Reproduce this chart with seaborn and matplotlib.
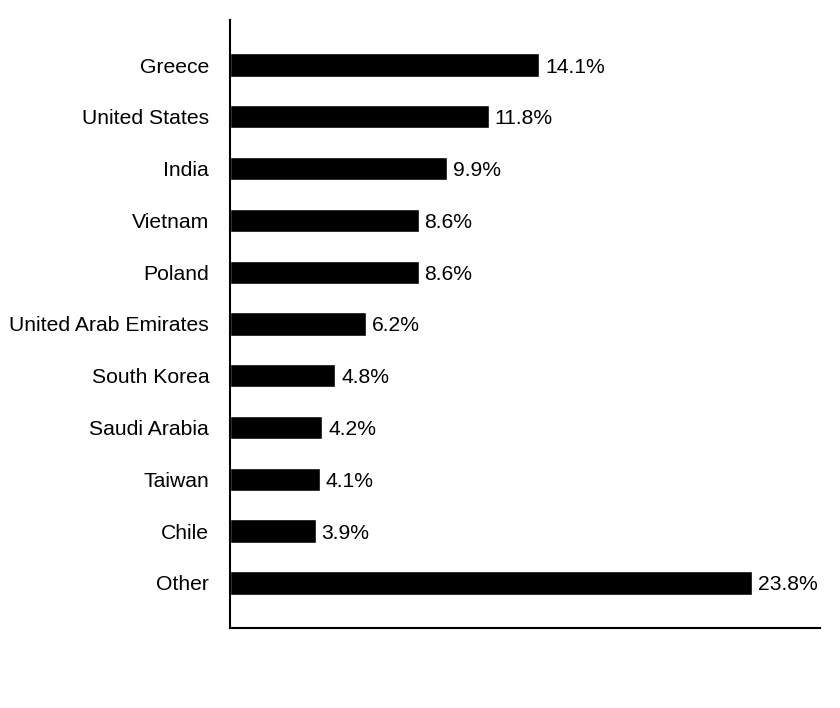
import numpy as np
import pandas as pd
import seaborn as sns
from matplotlib import pyplot as plt

# Country shares (percent)
countries = ['Greece', 'United States', 'India', 'Vietnam', 'Poland',
             'United Arab Emirates', 'South Korea', 'Saudi Arabia', 'Taiwan',
             'Chile', 'Other']
shares = [14.1, 11.8, 9.9, 8.6, 8.6, 6.2, 4.8, 4.2, 4.1, 3.9, 23.8]
value_labels = ['14.1%', '11.8%', '9.9%', '8.6%', '8.6%', '6.2%', '4.8%',
                '4.2%', '4.1%', '3.9%', '23.8%']

df = pd.DataFrame({'Country': countries, 'Share': shares})

sns.set_style('white')
plt.rcParams['font.family'] = ['Liberation Sans', 'DejaVu Sans']

fig = plt.figure(figsize=(8.4, 7.08), dpi=100)
ax = fig.add_axes([0.2738, 0.113, 0.7024, 0.8588])

sns.barplot(data=df, x='Share', y='Country', color='black', width=0.45,
            orient='h', ax=ax, saturation=1)

for i, (v, lab) in enumerate(zip(shares, value_labels)):
    ax.text(v + 0.27, i, lab, va='center_baseline', ha='left', fontsize=15.2,
            color='black')

ax.set_xlim(0, 26.9)
ax.set_ylim(10.87, -0.87)
ax.set_xlabel('')
ax.set_ylabel('')
ax.set_xticks([])
ax.tick_params(axis='y', length=0, pad=15, labelsize=15.2, labelcolor='black')
for lab in ax.get_yticklabels():
    lab.set_verticalalignment('center_baseline')
for s in ['top', 'right']:
    ax.spines[s].set_visible(False)
for s in ['left', 'bottom']:
    ax.spines[s].set_color('black')
    ax.spines[s].set_linewidth(1.5)

fig.savefig('out.png', dpi=100)
